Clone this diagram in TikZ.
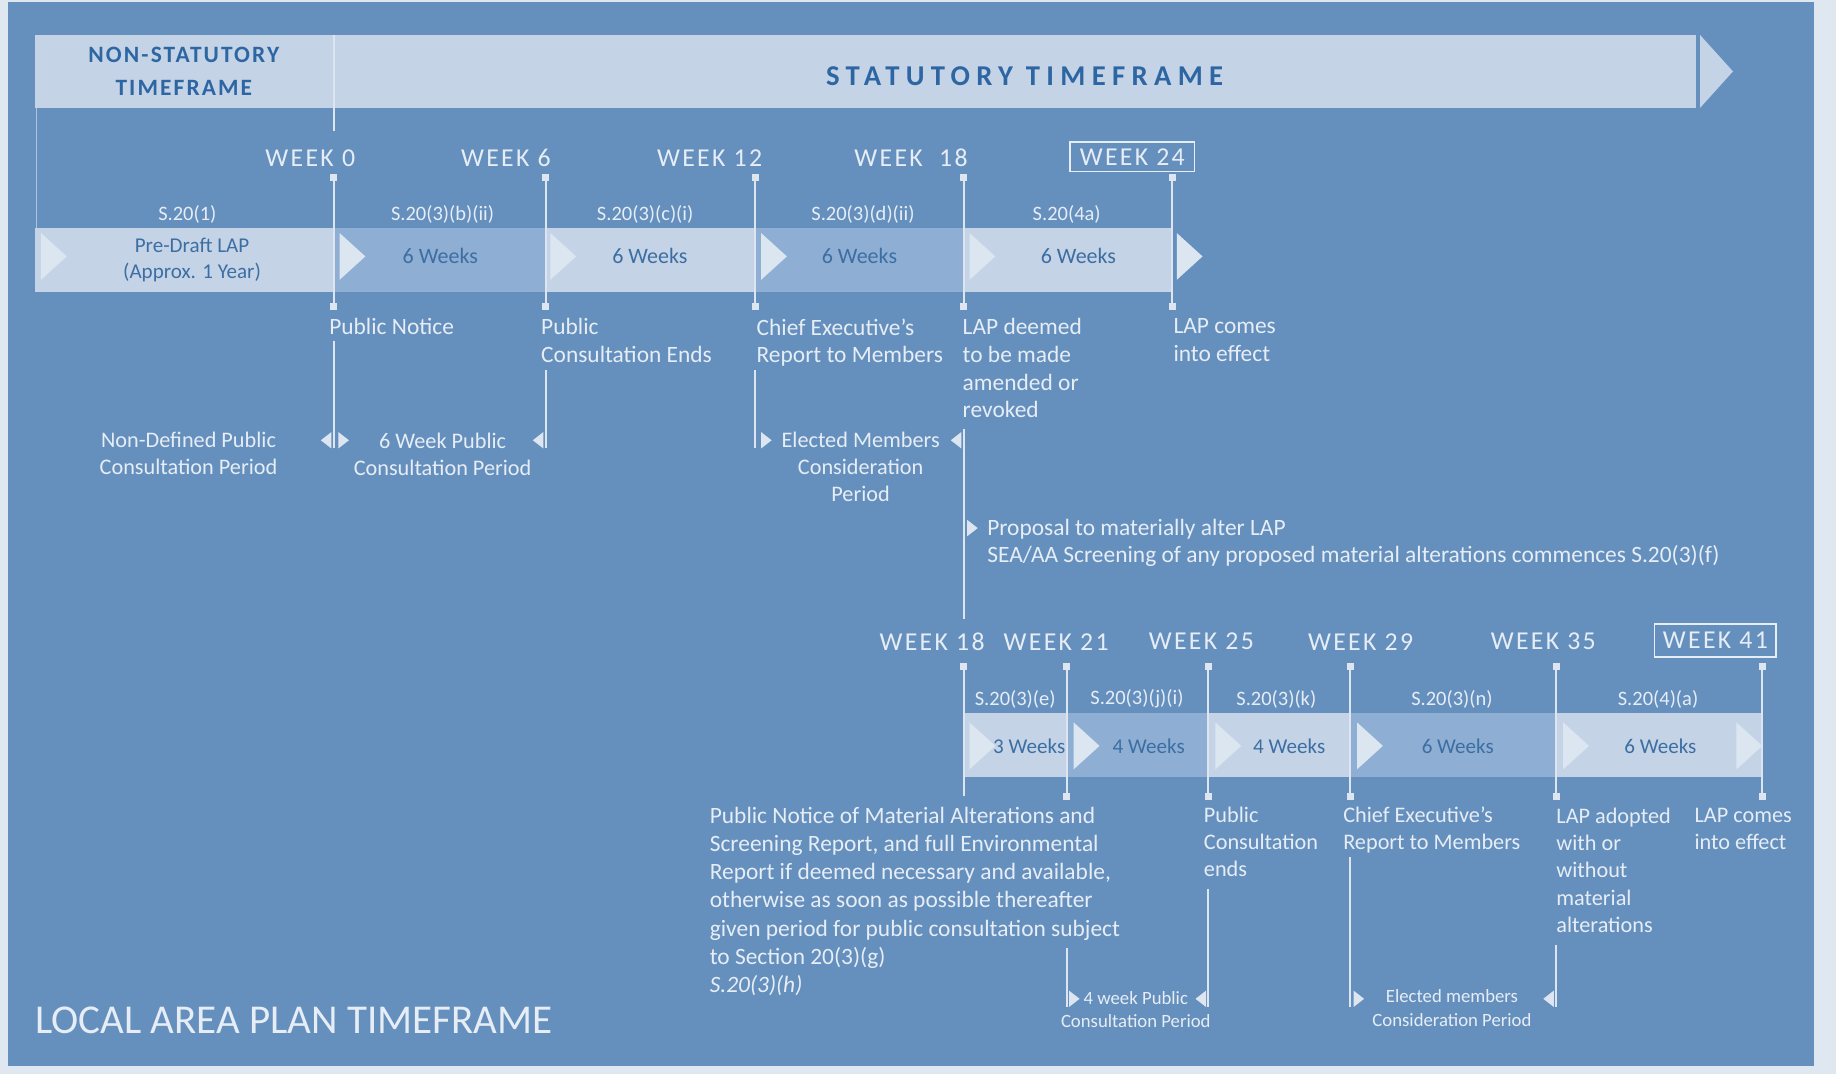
\documentclass[tikz,border=0pt]{standalone}
\usepackage{fontspec}
\setmainfont{Carlito}
\definecolor{outerC}{HTML}{DFE7F0}
\definecolor{panelC}{HTML}{6590BE}
\definecolor{barL}{HTML}{C4D4E6}
\definecolor{barM}{HTML}{8EAFD3}
\definecolor{triC}{HTML}{DCE6F1}
\definecolor{hdrT}{HTML}{2D66A3}
\definecolor{barT}{HTML}{3D6EA3}
\definecolor{txtW}{HTML}{E6EDF5}
\definecolor{lineC}{HTML}{DDE6F0}
\newcommand\barTri[2]{\fill[triC] (#1,#2-20) -- (#1+22,#2) -- (#1,#2+20) -- cycle;}
\newcommand\ptrR[2]{\fill[lineC] (#1,#2-7) -- (#1+9,#2) -- (#1,#2+7) -- cycle;}
\newcommand\ptrL[2]{\fill[lineC] (#1,#2) -- (#1+9,#2-7) -- (#1+9,#2+7) -- cycle;}
\tikzset{
  hdr/.style={font=\fontsize{20}{28}\selectfont\bfseries\addfontfeatures{LetterSpace=9}, text=hdrT, inner sep=0, align=center},
  hdrbig/.style={font=\fontsize{24.5}{28}\selectfont\bfseries\addfontfeatures{LetterSpace=22}, text=hdrT, inner sep=0},
  wk/.style={font=\fontsize{22}{24}\selectfont\addfontfeatures{LetterSpace=9}, text=txtW, inner sep=0},
  wkbox/.style={wk, draw=txtW, line width=1.4, minimum width=106, minimum height=25},
  sec/.style={font=\fontsize{17.5}{19}\selectfont, text=txtW, inner sep=0},
  bart/.style={font=\fontsize{18.8}{23}\selectfont, text=barT, inner sep=0, align=center},
  bart2/.style={font=\fontsize{18}{23}\selectfont, text=barT, inner sep=0, align=center},
  lbl/.style={font=\fontsize{20}{23.5}\selectfont, text=txtW, inner sep=0, align=left, anchor=north west},
  lbls/.style={font=\fontsize{19}{23.2}\selectfont, text=txtW, inner sep=0, align=left, anchor=north west},
  clbl/.style={font=\fontsize{19}{23}\selectfont, text=txtW, inner sep=0, align=center},
  slbl/.style={font=\fontsize{16}{20}\selectfont, text=txtW, inner sep=0, align=center},
  tick/.style={draw=lineC, line width=1.6},
  mk/.style={fill=lineC, minimum size=6, inner sep=0, outer sep=0},
  divl/.style={draw=lineC, line width=1.6},
}
\begin{document}
\begin{tikzpicture}[x=1pt,y=-1pt]
\useasboundingbox (0,0) rectangle (1568,917);
\fill[outerC] (0,0) rectangle (1568,917);
\fill[panelC] (7,2) rectangle (1549,910);

% ---------- header ----------
\fill[barL] (30,30) rectangle (1448,92);
\fill[barL] (1452,30) -- (1480,61) -- (1452,92) -- cycle;
\coordinate (dvA) at (285,30);
\coordinate (dvB) at (285,112);
\draw[divl] (dvA) -- (dvB);
\coordinate (lfA) at (31,92);
\coordinate (lfB) at (31,195);
\draw[lineC, line width=0.8, opacity=0.6] (lfA) -- (lfB);
\node[hdr] (nst) at (157,61) {NON-STATUTORY\\TIMEFRAME};
\node[hdrbig] (st) at (875,65) {STATUTORY TIMEFRAME};

% ---------- upper timeline ----------
\node[wk] (w0) at (265,135) {WEEK 0};
\node[wk] (w6) at (432,135) {WEEK 6};
\node[wk] (w12) at (606,135) {WEEK 12};
\node[wk] (w18) at (778,135) {WEEK\ \ 18};
\node[wkbox] (w24) at (967,134) {WEEK 24};

\node[sec] (s1) at (160,183) {S.20(1)};
\node[sec] (s2) at (378,183) {S.20(3)(b)(ii)};
\node[sec] (s3) at (551,183) {S.20(3)(c)(i)};
\node[sec] (s4) at (737,183) {S.20(3)(d)(ii)};
\node[sec] (s5) at (911,183) {S.20(4a)};

\fill[barL] (30,195) rectangle (285,249);
\fill[barM] (285,195) rectangle (466,249);
\fill[barL] (466,195) rectangle (645,249);
\fill[barM] (645,195) rectangle (823,249);
\fill[barL] (823,195) rectangle (1001,249);
\barTri{35}{219}
\barTri{290}{219}
\barTri{470}{219}
\barTri{650}{219}
\barTri{828}{219}
\barTri{1005}{219}

\node[bart2] (b1) at (164,222) {Pre-Draft LAP\\(Approx. 1 Year)};
\node[bart] (b2) at (376,219) {6 Weeks};
\node[bart] (b3) at (555,219) {6 Weeks};
\node[bart] (b4) at (734,219) {6 Weeks};
\node[bart] (b5) at (921,219) {6 Weeks};

\foreach \n/\x in {a/285,b/466,c/645,d/823,e/1001}{
  \coordinate (ut\n) at (\x,152);
  \coordinate (ub\n) at (\x,262);
  \draw[tick] (ut\n) -- (ub\n);
  \node[mk] (utm\n) at (ut\n) {};
  \node[mk] (ubm\n) at (ub\n) {};
}

\node[lbl] (l1) at (281,272) {Public Notice};
\node[lbl] (l2) at (462,272) {Public\\Consultation Ends};
\node[lbl] (l3) at (646,272) {Chief Executive’s\\Report to Members};
\node[lbl] (l4) at (822,272) {LAP deemed\\to be made\\amended or\\revoked};
\node[lbl] (l5) at (1002,272) {LAP comes\\into effect};

% pointer lines (upper)
\coordinate (pa1) at (285,291); \coordinate (pa2) at (285,383);
\draw[tick] (pa1) -- (pa2);
\ptrL{274}{376}
\ptrR{289}{376}
\coordinate (pb1) at (466,316); \coordinate (pb2) at (466,383);
\draw[tick] (pb1) -- (pb2);
\ptrL{455}{376}
\coordinate (pc1) at (645,316); \coordinate (pc2) at (645,383);
\draw[tick] (pc1) -- (pc2);
\ptrR{650}{376}
\coordinate (pd1) at (823,366); \coordinate (pd2) at (823,529);
\draw[tick] (pd1) -- (pd2);
\ptrL{812}{376}
\ptrR{826}{451}

\node[clbl] (c1) at (161,387) {Non-Defined Public\\Consultation Period};
\node[clbl] (c2) at (378,388) {6 Week Public\\Consultation Period};
\node[clbl] (c3) at (735,399) {Elected Members\\Consideration\\Period};
\node[lbl] (prop) at (843,443) {Proposal to materially alter LAP\\SEA/AA Screening of any proposed material alterations commences S.20(3)(f)};

% ---------- lower timeline ----------
\node[wk] (v18) at (796,548) {WEEK 18};
\node[wk] (v21) at (902,548) {WEEK 21};
\node[wk] (v25) at (1026,548) {WEEK 25};
\node[wk] (v29) at (1162,548) {WEEK 29};
\node[wk] (v35) at (1318,548) {WEEK 35};
\node[wkbox, minimum width=104, minimum height=28] (v41) at (1465,547) {WEEK 41};

\node[sec] (r1) at (867,597) {S.20(3)(e)};
\node[sec] (r2) at (971,597) {S.20(3)(j)(i)};
\node[sec] (r3) at (1090,597) {S.20(3)(k)};
\node[sec] (r4) at (1240,597) {S.20(3)(n)};
\node[sec] (r5) at (1416,597) {S.20(4)(a)};

\fill[barL] (823,609) rectangle (911,664);
\fill[barM] (911,609) rectangle (1032,664);
\fill[barL] (1032,609) rectangle (1153,664);
\fill[barM] (1153,609) rectangle (1329,664);
\fill[barL] (1329,609) rectangle (1505,664);
\barTri{828}{637}
\barTri{917}{637}
\barTri{1038}{637}
\barTri{1159}{637}
\barTri{1335}{637}
\barTri{1483}{637}

\node[bart2] (q1) at (879,637) {3 Weeks};
\node[bart2] (q2) at (981,637) {4 Weeks};
\node[bart2] (q3) at (1101,637) {4 Weeks};
\node[bart2] (q4) at (1245,637) {6 Weeks};
\node[bart2] (q5) at (1418,637) {6 Weeks};

\coordinate (lt0) at (823,569);
\coordinate (lb0) at (823,680);
\draw[tick] (lt0) -- (lb0);
\node[mk] (ltm0) at (lt0) {};
\foreach \n/\x in {a/911,b/1032,c/1153,d/1329,e/1505}{
  \coordinate (lt\n) at (\x,569);
  \coordinate (lb\n) at (\x,680);
  \draw[tick] (lt\n) -- (lb\n);
  \node[mk] (ltm\n) at (lt\n) {};
  \node[mk] (lbm\n) at (lb\n) {};
}

\node[lbl, font=\fontsize{20}{24.1}\selectfont] (m1) at (606,689) {Public Notice of Material Alterations and\\Screening Report, and full Environmental\\Report if deemed necessary and available,\\otherwise as soon as possible thereafter\\given period for public consultation subject\\to Section 20(3)(g)\\\textit{S.20(3)(h)}};
\node[lbls] (m2) at (1028,689) {Public\\Consultation\\ends};
\node[lbls] (m3) at (1147,689) {Chief Executive’s\\Report to Members};
\node[lbls] (m4) at (1329,690) {LAP adopted\\with or\\without\\material\\alterations};
\node[lbls] (m5) at (1447,690) {LAP comes\\into effect};

\coordinate (qa1) at (911,810); \coordinate (qa2) at (911,860);
\draw[tick] (qa1) -- (qa2);
\ptrR{913}{853}
\coordinate (qb1) at (1032,759); \coordinate (qb2) at (1032,860);
\draw[tick] (qb1) -- (qb2);
\ptrL{1021}{853}
\coordinate (qc1) at (1153,732); \coordinate (qc2) at (1153,860);
\draw[tick] (qc1) -- (qc2);
\ptrR{1156}{853}
\coordinate (qd1) at (1329,807); \coordinate (qd2) at (1329,860);
\draw[tick] (qd1) -- (qd2);
\ptrL{1318}{853}

\node[slbl] (d1) at (970,862) {4 week Public\\Consultation Period};
\node[slbl] (d2) at (1240,861) {Elected members\\Consideration Period};

\node[font=\fontsize{35}{37}\selectfont, text=txtW, inner sep=0, anchor=west] (title) at (30,871) {LOCAL AREA PLAN TIMEFRAME};
\end{tikzpicture}
\end{document}
